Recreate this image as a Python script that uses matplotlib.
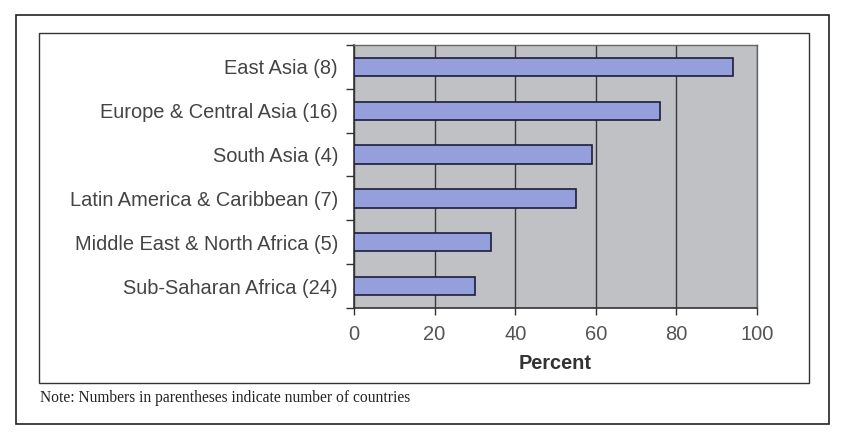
import matplotlib.pyplot as plt
from matplotlib.patches import Rectangle

regions = ['East Asia (8)', 'Europe & Central Asia (16)', 'South Asia (4)',
           'Latin America & Caribbean (7)', 'Middle East & North Africa (5)',
           'Sub-Saharan Africa (24)']
percent = [94, 76, 59, 55, 34, 30]
xticks = [0, 20, 40, 60, 80, 100]
note = 'Note: Numbers in parentheses indicate number of countries'

if __name__ == "__main__":
    fig = plt.figure(figsize=(8.42, 4.40), dpi=100)
    W, H = 842., 440.

    # outer and inner frames
    fig.patches.append(Rectangle((16 / W, 1 - 424 / H), (829 - 16) / W, (424 - 15) / H,
                                 transform=fig.transFigure, fill=False, ec='#222222', lw=1.2))
    fig.patches.append(Rectangle((39 / W, 1 - 383 / H), (809 - 39) / W, (383 - 33) / H,
                                 transform=fig.transFigure, fill=False, ec='#333333', lw=1.0))

    ax = fig.add_axes([354 / W, 1 - 308 / H, (757 - 354) / W, (308 - 45) / H])
    ax.set_facecolor('#c0c1c5')
    y = list(range(len(regions)))[::-1]
    ax.barh(y, percent, height=0.42, color='#959fdb', edgecolor='#1c1e3c', lw=1.2, zorder=3)

    ax.set_xlim(0, 100)
    ax.set_ylim(-0.5, len(regions) - 0.5)
    ax.set_xticks(xticks)
    ax.set_xticklabels([str(t) for t in xticks], fontsize=14.5, color='#555555',
                       family='Liberation Sans')
    ax.set_yticks(y)
    ax.set_yticklabels(regions, fontsize=14.4, color='#444444', family='Liberation Sans')
    ax.set_yticks([i - 0.5 for i in range(len(regions) + 1)], minor=True)
    ax.tick_params(axis='y', which='major', length=0, pad=11.5)
    ax.tick_params(axis='y', which='minor', length=6, width=1, color='#333333')
    ax.tick_params(axis='x', length=5, width=1, color='#333333', pad=7.5)
    ax.grid(axis='x', color='#3a3a3a', lw=1.0, zorder=1)

    for s in ['left', 'bottom']:
        ax.spines[s].set_color('#333333')
        ax.spines[s].set_linewidth(1.2)
    for s in ['top', 'right']:
        ax.spines[s].set_color('#666666')
        ax.spines[s].set_linewidth(1.0)

    ax.set_xlabel('Percent', fontsize=14.4, fontweight='bold', color='#333333',
                  family='Liberation Sans', labelpad=7)

    fig.text(40 / W, 1 - 402 / H, note, fontsize=11.2, family='Liberation Serif',
             color='#222222', va='baseline')

    plt.savefig('out.png', dpi=100)
